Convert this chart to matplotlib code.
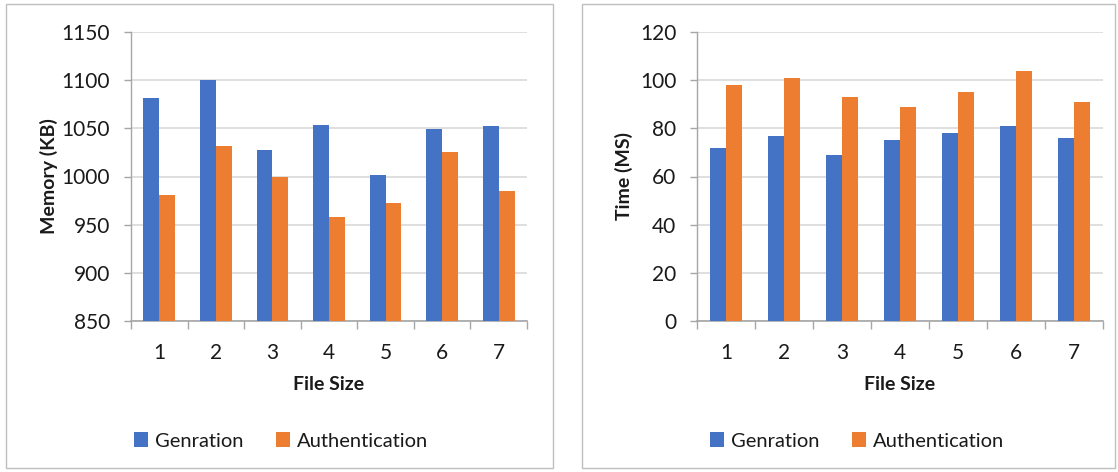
import matplotlib
matplotlib.use("Agg")
import matplotlib.pyplot as plt
from matplotlib.patches import Rectangle
import numpy as np

plt.rcParams['font.family'] = ['Lato', 'DejaVu Sans']

categories = ["1", "2", "3", "4", "5", "6", "7"]
series_names = ["Genration", "Authentication"]
memory_gen = [1082, 1100, 1028, 1053, 1002, 1049, 1052]
memory_auth = [981, 1032, 1000, 958, 972, 1025, 985]
time_gen = [72, 77, 69, 75, 78, 81, 76]
time_auth = [98, 101, 93, 89, 95, 104, 91]
mem_ticks = [850, 900, 950, 1000, 1050, 1100, 1150]
time_ticks = [0, 20, 40, 60, 80, 100, 120]

BLUE = "#4472C4"
ORANGE = "#ED7D31"
GRID = "#d9d9d9"
AXC = "#a6a6a6"
TXT = "#1a1a1a"

W, H = 1118, 472
fig = plt.figure(figsize=(W / 100, H / 100), dpi=100)

# panel borders
for (x0, x1) in [(6, 553), (582, 1115)]:
    fig.patches.append(Rectangle((x0 / W, 4 / H), (x1 - x0) / W, 464 / H,
                                 transform=fig.transFigure, fill=False,
                                 edgecolor="#bfbfbf", linewidth=1.0))

def panel(left_px, width_px, gen, auth, ticks, ylabel, ylabel_x_px, legend_x_px):
    ax = fig.add_axes([left_px / W, 1 - 321 / H, width_px / W, 289 / H])
    x = np.arange(len(categories))
    w = 0.28
    ax.bar(x - w / 2, gen, width=w, color=BLUE, label=series_names[0], zorder=3)
    ax.bar(x + w / 2, auth, width=w, color=ORANGE, label=series_names[1], zorder=3)
    ax.set_xlim(-0.5, len(categories) - 0.5)
    ax.set_ylim(ticks[0], ticks[-1])
    ax.set_yticks(ticks)
    ax.set_xticks(x)
    ax.set_xticklabels(categories)
    ax.set_xticks(np.arange(len(categories) + 1) - 0.5, minor=True)
    ax.tick_params(axis='x', which='major', length=0, labelsize=15, pad=16, labelcolor=TXT)
    ax.tick_params(axis='x', which='minor', length=6, color=AXC, width=1)
    ax.tick_params(axis='y', which='major', length=5, color=AXC, width=1, labelsize=15, pad=10,
                   labelcolor=TXT)
    ax.grid(axis='y', color=GRID, linewidth=1.2, zorder=0)
    for s in ["top", "right"]:
        ax.spines[s].set_visible(False)
    ax.spines["left"].set_color(AXC)
    ax.spines["bottom"].set_color(AXC)
    ax.spines["left"].set_linewidth(1)
    ax.spines["bottom"].set_linewidth(1.2)
    ax.set_ylabel(ylabel, fontsize=14, fontweight='bold', color=TXT)
    ax.yaxis.set_label_coords((ylabel_x_px - left_px) / width_px, 0.5)
    ax.set_xlabel("File Size", fontsize=14, fontweight='bold', color=TXT, labelpad=9)
    leg = fig.legend(*ax.get_legend_handles_labels(), loc='center',
                     bbox_to_anchor=(legend_x_px / W, 1 - 441 / H), ncol=2, frameon=False,
                     fontsize=14.5, handlelength=0.7, handleheight=0.7, handletextpad=0.35,
                     columnspacing=1.6)
    for t in leg.get_texts():
        t.set_color(TXT)
    return ax

panel(131, 396, memory_gen, memory_auth, mem_ticks, "Memory (KB)", 58, 281)
panel(697, 406, time_gen, time_auth, time_ticks, "Time (MS)", 633, 857)

fig.savefig("out.png", dpi=100)
